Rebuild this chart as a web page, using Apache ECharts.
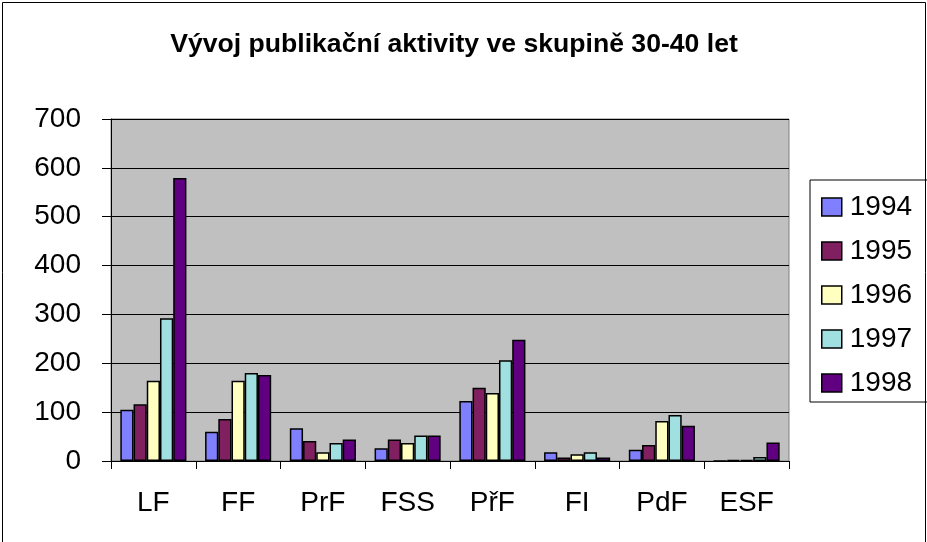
<!DOCTYPE html>
<html>
<head>
<meta charset="utf-8">
<script src="https://cdn.jsdelivr.net/npm/echarts@6/dist/echarts.min.js"></script>
<style>
  html, body { margin: 0; padding: 0; background: #fff; }
  #chart { width: 927px; height: 542px; }
</style>
</head>
<body>
<div id="chart"></div>
<script>
// kategorie (fakulty) a roky
const faculties = ["LF", "FF", "PrF", "FSS", "PřF", "FI", "PdF", "ESF"];
const years = ["1994", "1995", "1996", "1997", "1998"];
const yTicks = [0, 100, 200, 300, 400, 500, 600, 700];

// hodnoty
const v1994 = [105, 60, 67, 26, 123, 18, 23, 0];
const v1995 = [116, 86, 41, 44, 150, 7, 33, 2];
const v1996 = [164, 164, 18, 37, 139, 14, 82, 2];
const v1997 = [292, 180, 37, 52, 206, 18, 94, 8];
const v1998 = [579, 176, 44, 52, 248, 7, 72, 38];

const colors = ["#8080FF", "#802060", "#FFFFC0", "#A0E0E0", "#600080"];
const values = [v1994, v1995, v1996, v1997, v1998];

const font = "Arial, 'Liberation Sans', sans-serif";
const chart = echarts.init(document.getElementById("chart"));

chart.setOption({
  animation: false,
  title: {
    text: "Vývoj publikační aktivity ve skupině 30-40 let",
    left: 449,
    top: 26,
    textAlign: "center",
    textStyle: { fontFamily: font, fontSize: 26.6, fontWeight: "bold", color: "#000" }
  },
  legend: {
    orient: "vertical",
    left: 810,
    top: 180,
    width: 150,
    padding: [13, 40, 5, 11],
    itemGap: 16,
    itemWidth: 20,
    itemHeight: 18,
    borderColor: "#000",
    borderWidth: 1,
    icon: "rect",
    data: years,
    itemStyle: { borderColor: "#000", borderWidth: 1.5 },
    textStyle: { fontFamily: font, fontSize: 28, color: "#000", padding: [0, 0, 0, 3] }
  },
  grid: {
    left: 111, right: 138, top: 119, bottom: 81,
    show: true,
    backgroundColor: "#C0C0C0",
    borderColor: "#808080",
    borderWidth: 1
  },
  xAxis: {
    type: "category",
    data: faculties,
    axisLine: { lineStyle: { color: "#000", width: 1 } },
    axisTick: { show: true, length: 8, inside: false, lineStyle: { color: "#000" } },
    axisLabel: { fontFamily: font, fontSize: 28, color: "#000", margin: 28 }
  },
  yAxis: {
    type: "value",
    min: 0,
    max: 700,
    interval: 100,
    axisLine: { show: true, lineStyle: { color: "#000" } },
    axisTick: { show: true, length: 9, lineStyle: { color: "#000" } },
    axisLabel: {
      fontFamily: font, fontSize: 28, color: "#000", margin: 30,
      formatter: v => yTicks.includes(v) ? String(v) : ""
    },
    splitLine: { show: true, lineStyle: { color: "#000", width: 1 } }
  },
  series: years.map((y, i) => ({
    name: y,
    type: "bar",
    data: values[i],
    barGap: "0%",
    barCategoryGap: "22%",
    itemStyle: { color: colors[i], borderColor: "#000", borderWidth: 1.5 }
  })),
  graphic: [{
    type: "rect",
    shape: { x: 2.5, y: 2.5, width: 923, height: 545 },
    style: { fill: null, stroke: "#000", lineWidth: 1 },
    silent: true
  }]
});
</script>
</body>
</html>
